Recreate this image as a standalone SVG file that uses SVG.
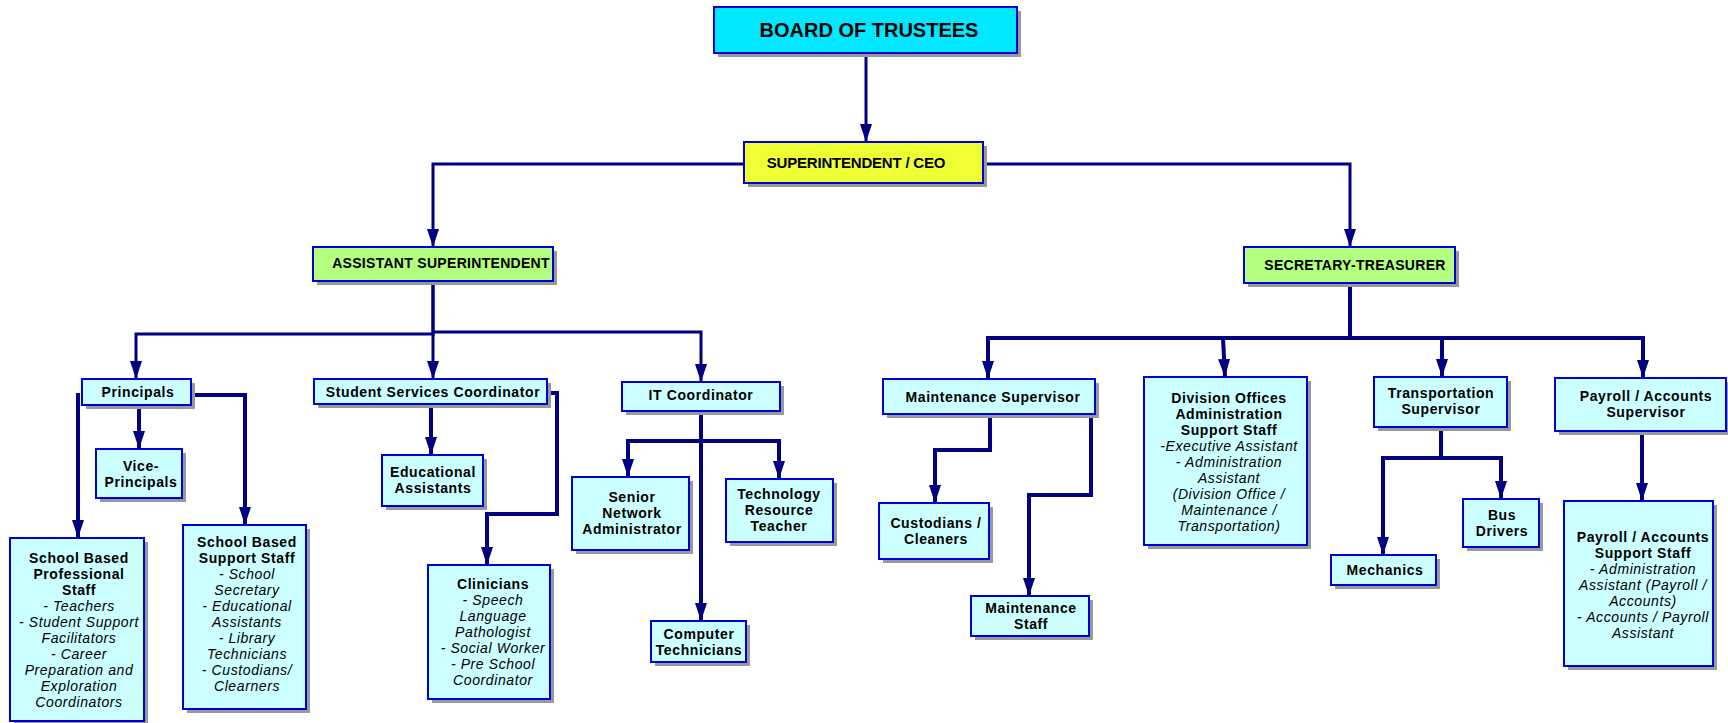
<svg xmlns="http://www.w3.org/2000/svg" width="1728" height="723" viewBox="0 0 1728 723">
<style>
.sh{fill:#999999}
.bx{stroke:#0000DD;stroke-width:2}
.lc{fill:#CCFFFF}
.cy{fill:#00E8FF}
.ye{fill:#EEFF33}
.gr{fill:#B3FF80}
text{font-family:"Liberation Sans",Arial,sans-serif;font-size:14px;fill:#000;text-anchor:middle}
.b{font-weight:bold;letter-spacing:0.6px}
.i{font-style:italic;letter-spacing:0.6px}
.c3{fill:none;stroke:#000080;stroke-width:3}
.c4{fill:none;stroke:#000080;stroke-width:4}
</style>
<defs>
<marker id="ah" viewBox="0 0 18 12" refX="18" refY="6" markerWidth="18" markerHeight="12" markerUnits="userSpaceOnUse" orient="auto">
<path d="M0,0 L18,6 L0,12 z" fill="#000080"/>
</marker>
</defs>
<rect width="1728" height="723" fill="#FFFFFF"/>

<g id="connectors">
<path class="c3" d="M866,53 V142" marker-end="url(#ah)"/>
<path class="c3" d="M744,164 H433 V247" marker-end="url(#ah)"/>
<path class="c3" d="M983,164 H1350 V247" marker-end="url(#ah)"/>
<path class="c3" d="M433,281 V334 H136 V379" marker-end="url(#ah)"/>
<path class="c3" d="M433,281 V379" marker-end="url(#ah)"/>
<path class="c3" d="M433,332 H701 V382" marker-end="url(#ah)"/>
<path class="c4" d="M139,405 V449" marker-end="url(#ah)"/>
<path class="c4" d="M78,393 V538" marker-end="url(#ah)"/>
<path class="c4" d="M191,395 H245 V525" marker-end="url(#ah)"/>
<path class="c4" d="M431,404 V455" marker-end="url(#ah)"/>
<path class="c4" d="M547,393 H557 V514 H487 V565" marker-end="url(#ah)"/>
<path class="c4" d="M701,411 V621" marker-end="url(#ah)"/>
<path class="c4" d="M701,441 H628 V477" marker-end="url(#ah)"/>
<path class="c4" d="M701,441 H779 V479" marker-end="url(#ah)"/>
<path class="c4" d="M1350,283 V338"/>
<path class="c4" d="M988,379 V338 H1643 V378" marker-end="url(#ah)"/>
<path class="c4" d="M988,338 V379" marker-end="url(#ah)"/>
<path class="c4" d="M1223,338 L1225,377" marker-end="url(#ah)"/>
<path class="c4" d="M1442,338 V377" marker-end="url(#ah)"/>
<path class="c4" d="M990,414 V450 H935 V503" marker-end="url(#ah)"/>
<path class="c4" d="M1091,414 V495 H1029 V596" marker-end="url(#ah)"/>
<path class="c4" d="M1441,427 V458 H1383 V555" marker-end="url(#ah)"/>
<path class="c4" d="M1441,458 H1501 V499" marker-end="url(#ah)"/>
<path class="c4" d="M1642,431 V501" marker-end="url(#ah)"/>
</g>

<g id="board">
<rect class="sh" x="718" y="11" width="303" height="46"/>
<rect class="bx cy" x="714" y="7" width="303" height="46"/>
<text x="869" y="37" style="font-weight:bold;font-size:20px">BOARD OF TRUSTEES</text>
</g>

<g id="superintendent">
<rect class="sh" x="748" y="146" width="239" height="41"/>
<rect class="bx ye" x="744" y="142" width="239" height="41"/>
<text x="856" y="168" style="font-weight:bold;font-size:15px;letter-spacing:-0.2px">SUPERINTENDENT / CEO</text>
</g>

<g id="assistant-superintendent">
<rect class="sh" x="317" y="251" width="240" height="34"/>
<rect class="bx gr" x="313" y="247" width="240" height="34"/>
<text x="441" y="268" style="font-weight:bold;letter-spacing:0.3px">ASSISTANT SUPERINTENDENT</text>
</g>

<g id="secretary-treasurer">
<rect class="sh" x="1248" y="251" width="211" height="36"/>
<rect class="bx gr" x="1244" y="247" width="211" height="36"/>
<text x="1355" y="270" style="font-weight:bold;letter-spacing:0.3px">SECRETARY-TREASURER</text>
</g>

<g id="principals">
<rect class="sh" x="86" y="383" width="109" height="26"/>
<rect class="bx lc" x="82" y="379" width="109" height="26"/>
<text class="b" x="138" y="397">Principals</text>
</g>

<g id="vice-principals">
<rect class="sh" x="100" y="453" width="86" height="49"/>
<rect class="bx lc" x="96" y="449" width="86" height="49"/>
<text class="b" x="141" y="471">Vice-</text>
<text class="b" x="141" y="487">Principals</text>
</g>

<g id="school-professional">
<rect class="sh" x="14" y="542" width="134" height="183"/>
<rect class="bx lc" x="10" y="538" width="134" height="183"/>
<text class="b" x="79" y="563">School Based</text>
<text class="b" x="79" y="579">Professional</text>
<text class="b" x="79" y="595">Staff</text>
<text class="i" x="79" y="611">- Teachers</text>
<text class="i" x="79" y="627">- Student Support</text>
<text class="i" x="79" y="643">Facilitators</text>
<text class="i" x="79" y="659">- Career</text>
<text class="i" x="79" y="675">Preparation and</text>
<text class="i" x="79" y="691">Exploration</text>
<text class="i" x="79" y="707">Coordinators</text>
</g>

<g id="school-support">
<rect class="sh" x="187" y="529" width="123" height="184"/>
<rect class="bx lc" x="183" y="525" width="123" height="184"/>
<text class="b" x="247" y="547">School Based</text>
<text class="b" x="247" y="563">Support Staff</text>
<text class="i" x="247" y="579">- School</text>
<text class="i" x="247" y="595">Secretary</text>
<text class="i" x="247" y="611">- Educational</text>
<text class="i" x="247" y="627">Assistants</text>
<text class="i" x="247" y="643">- Library</text>
<text class="i" x="247" y="659">Technicians</text>
<text class="i" x="247" y="675">- Custodians/</text>
<text class="i" x="247" y="691">Clearners</text>
</g>

<g id="student-services">
<rect class="sh" x="318" y="383" width="233" height="25"/>
<rect class="bx lc" x="314" y="379" width="233" height="25"/>
<text class="b" x="433" y="397">Student Services Coordinator</text>
</g>

<g id="educational-assistants">
<rect class="sh" x="386" y="459" width="101" height="51"/>
<rect class="bx lc" x="382" y="455" width="101" height="51"/>
<text class="b" x="433" y="477">Educational</text>
<text class="b" x="433" y="493">Assistants</text>
</g>

<g id="clinicians">
<rect class="sh" x="432" y="569" width="122" height="134"/>
<rect class="bx lc" x="428" y="565" width="122" height="134"/>
<text class="b" x="493" y="589">Clinicians</text>
<text class="i" x="493" y="605">- Speech</text>
<text class="i" x="493" y="621">Language</text>
<text class="i" x="493" y="637">Pathologist</text>
<text class="i" x="493" y="653">- Social Worker</text>
<text class="i" x="493" y="669">- Pre School</text>
<text class="i" x="493" y="685">Coordinator</text>
</g>

<g id="it-coordinator">
<rect class="sh" x="626" y="386" width="158" height="29"/>
<rect class="bx lc" x="622" y="382" width="158" height="29"/>
<text class="b" x="701" y="400">IT Coordinator</text>
</g>

<g id="senior-network-administrator">
<rect class="sh" x="576" y="481" width="117" height="73"/>
<rect class="bx lc" x="572" y="477" width="117" height="73"/>
<text class="b" x="632" y="502">Senior</text>
<text class="b" x="632" y="518">Network</text>
<text class="b" x="632" y="534">Administrator</text>
</g>

<g id="technology-resource-teacher">
<rect class="sh" x="730" y="483" width="107" height="63"/>
<rect class="bx lc" x="726" y="479" width="107" height="63"/>
<text class="b" x="779" y="499">Technology</text>
<text class="b" x="779" y="515">Resource</text>
<text class="b" x="779" y="531">Teacher</text>
</g>

<g id="computer-technicians">
<rect class="sh" x="655" y="625" width="95" height="41"/>
<rect class="bx lc" x="651" y="621" width="95" height="41"/>
<text class="b" x="699" y="639">Computer</text>
<text class="b" x="699" y="655">Technicians</text>
</g>

<g id="maintenance-supervisor">
<rect class="sh" x="887" y="383" width="212" height="35"/>
<rect class="bx lc" x="883" y="379" width="212" height="35"/>
<text class="b" x="993" y="402">Maintenance Supervisor</text>
</g>

<g id="custodians">
<rect class="sh" x="883" y="507" width="110" height="56"/>
<rect class="bx lc" x="879" y="503" width="110" height="56"/>
<text class="b" x="936" y="528">Custodians /</text>
<text class="b" x="936" y="544">Cleaners</text>
</g>

<g id="maintenance-staff">
<rect class="sh" x="975" y="600" width="118" height="40"/>
<rect class="bx lc" x="971" y="596" width="118" height="40"/>
<text class="b" x="1031" y="613">Maintenance</text>
<text class="b" x="1031" y="629">Staff</text>
</g>

<g id="division-offices">
<rect class="sh" x="1148" y="381" width="163" height="168"/>
<rect class="bx lc" x="1144" y="377" width="163" height="168"/>
<text class="b" x="1229" y="403">Division Offices</text>
<text class="b" x="1229" y="419">Administration</text>
<text class="b" x="1229" y="435">Support Staff</text>
<text class="i" x="1229" y="451">-Executive Assistant</text>
<text class="i" x="1229" y="467">- Administration</text>
<text class="i" x="1229" y="483">Assistant</text>
<text class="i" x="1229" y="499">(Division Office /</text>
<text class="i" x="1229" y="515">Maintenance /</text>
<text class="i" x="1229" y="531">Transportation)</text>
</g>

<g id="transportation-supervisor">
<rect class="sh" x="1378" y="381" width="133" height="50"/>
<rect class="bx lc" x="1374" y="377" width="133" height="50"/>
<text class="b" x="1441" y="398">Transportation</text>
<text class="b" x="1441" y="414">Supervisor</text>
</g>

<g id="mechanics">
<rect class="sh" x="1335" y="559" width="105" height="30"/>
<rect class="bx lc" x="1331" y="555" width="105" height="30"/>
<text class="b" x="1385" y="575">Mechanics</text>
</g>

<g id="bus-drivers">
<rect class="sh" x="1467" y="503" width="76" height="48"/>
<rect class="bx lc" x="1463" y="499" width="76" height="48"/>
<text class="b" x="1502" y="520">Bus</text>
<text class="b" x="1502" y="536">Drivers</text>
</g>

<g id="payroll-supervisor">
<rect class="sh" x="1559" y="382" width="171" height="53"/>
<rect class="bx lc" x="1555" y="378" width="171" height="53"/>
<text class="b" x="1646" y="401">Payroll / Accounts</text>
<text class="b" x="1646" y="417">Supervisor</text>
</g>

<g id="payroll-support">
<rect class="sh" x="1568" y="505" width="149" height="165"/>
<rect class="bx lc" x="1564" y="501" width="149" height="165"/>
<text class="b" x="1643" y="542">Payroll / Accounts</text>
<text class="b" x="1643" y="558">Support Staff</text>
<text class="i" x="1643" y="574">- Administration</text>
<text class="i" x="1643" y="590">Assistant (Payroll /</text>
<text class="i" x="1643" y="606">Accounts)</text>
<text class="i" x="1643" y="622">- Accounts / Payroll</text>
<text class="i" x="1643" y="638">Assistant</text>
</g>
</svg>
